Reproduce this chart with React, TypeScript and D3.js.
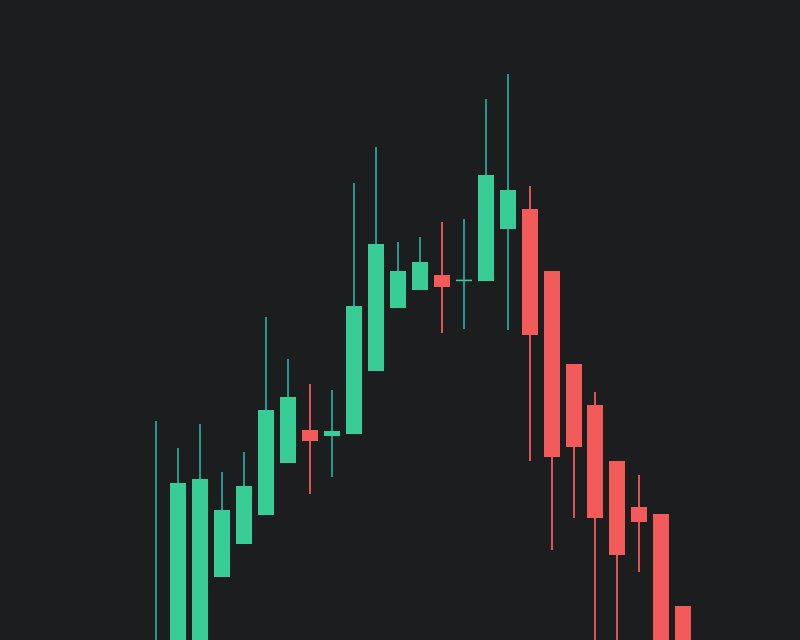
import React from "react";
import * as d3 from "d3";

const dates = [
  "2024-01-01", "2024-01-02", "2024-01-03", "2024-01-04", "2024-01-05",
  "2024-01-06", "2024-01-07", "2024-01-08", "2024-01-09", "2024-01-10",
  "2024-01-11", "2024-01-12", "2024-01-13", "2024-01-14", "2024-01-15",
  "2024-01-16", "2024-01-17", "2024-01-18", "2024-01-19", "2024-01-20",
  "2024-01-21", "2024-01-22", "2024-01-23", "2024-01-24", "2024-01-25",
];
const openValues = [
  28, 27.5, 30, 55.75, 64, 71.25, 84.25, 92.5, 91, 91.5,
  107.25, 123, 127.5, 131.25, 129.7, 129.75, 142.75, 147.75, 132.25, 109,
  98.75, 84.75, 73.25, 71.5, 48.5,
];
const highValues = [
  94.75, 88, 94, 82, 87, 120.75, 110.25, 104, 102.5, 154.25,
  163.25, 139.5, 140.75, 144.5, 145.25, 175.25, 181.5, 153.5, 132.25, 109,
  102, 84.75, 81.25, 71.5, 48.5,
];
const lowValues = [
  18, 22, 24, 55.75, 64, 71.25, 84.25, 76.5, 80.75, 91.5,
  107.25, 123, 127.5, 116.75, 117.75, 129.75, 117.5, 84.75, 62.5, 70.5,
  30, 25, 57, 20, 15,
];
const closeValues = [
  36, 79.25, 80.25, 72.5, 78.5, 97.5, 100.75, 89.75, 92.25, 123.5,
  139, 132.25, 134.5, 128.25, 130.1, 156.25, 152.5, 116.25, 85.75, 88.25,
  70.5, 61.25, 69.5, 30, 25,
];

const WIDTH = 800;
const HEIGHT = 640;
const BG = "#1c1d1f";
const UP_BODY = "#38cd96";
const UP_WICK = "#26a69a";
const DOWN = "#f35b5b";
const STEP = 21.949;
const BODY_W = 16;
const FIRST_BODY_X = 147.99;

export default function App() {
  const pad = 1 - BODY_W / STEP;
  const start = FIRST_BODY_X - (STEP - BODY_W) / 2;
  const x = d3
    .scaleBand<string>()
    .domain(dates)
    .range([start, start + STEP * dates.length])
    .paddingInner(pad)
    .paddingOuter(pad / 2);
  const y = d3.scaleLinear().domain([40, 200]).range([HEIGHT, 0]);

  const candles = dates.map((d, i) => ({
    d,
    o: openValues[i],
    h: highValues[i],
    l: lowValues[i],
    c: closeValues[i],
  }));

  return (
    <svg
      width={WIDTH}
      height={HEIGHT}
      style={{ position: "fixed", left: 0, top: 0, display: "block" }}
    >
      <rect x={0} y={0} width={WIDTH} height={HEIGHT} fill={BG} />
      {candles.map((k) => {
        const up = k.c >= k.o;
        const x0 = Math.ceil(x(k.d) as number);
        const bw = Math.round(x.bandwidth());
        const cx = x0 + bw / 2;
        const top = y(Math.max(k.o, k.c));
        const bot = y(Math.min(k.o, k.c));
        const bh = Math.max(1.5, bot - top);
        return (
          <g key={k.d}>
            <line
              x1={cx}
              x2={cx}
              y1={y(k.h)}
              y2={y(k.l)}
              stroke={up ? UP_WICK : DOWN}
              strokeWidth={1.8}
            />
            <rect
              x={x0}
              y={top}
              width={bw}
              height={bh}
              fill={up ? UP_BODY : DOWN}
            />
          </g>
        );
      })}
    </svg>
  );
}
